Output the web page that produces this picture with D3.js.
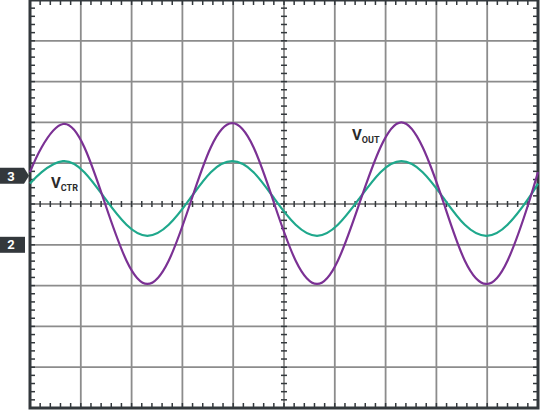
<!DOCTYPE html>
<html>
<head>
<meta charset="utf-8">
<script src="https://cdn.jsdelivr.net/npm/d3@7"></script>
<style>
  html, body { margin: 0; padding: 0; background: #fff; }
  svg { display: block; }
  text { font-family: Roboto, "Liberation Sans", sans-serif; }
</style>
</head>
<body>
<svg id="canvas" width="540" height="410"></svg>
<script>
// time axis in divisions, read at roughly eighth-period steps
let timeDiv = [0, 0.23, 0.65, 1.07, 1.48, 1.90, 2.31, 2.73, 3.15, 3.56, 3.98, 4.40, 4.81,
               5.23, 5.65, 6.06, 6.48, 6.90, 7.31, 7.73, 8.15, 8.56, 8.98, 9.40, 9.81, 10]

// V_OUT (purple), in vertical divisions from centre
let vOut = [0.78, 1.39, 1.96, 1.39, 0, -1.39, -1.96, -1.39, 0, 1.39, 1.98, 1.39, 0,
            -1.39, -1.96, -1.39, 0, 1.39, 2.0, 1.39, 0, -1.39, -1.96, -1.39, 0, 0.78]

// V_CTR (teal)
let vCtr = [0.5, 0.78, 1.05, 0.78, 0.13, -0.51, -0.78, -0.51, 0.13, 0.78, 1.05, 0.78, 0.13,
            -0.51, -0.78, -0.51, 0.13, 0.78, 1.05, 0.78, 0.13, -0.51, -0.78, -0.51, 0.13, 0.5]

// channel markers on the left edge
let markerLabels = ["3", "2"]
let markerLevels = [0.69, -1.0]

let seriesNames = ["OUT", "CTR"]

let canvas = d3.select("#canvas")

let xScale = d3.scaleLinear().domain([0, 10]).range([30, 538])
let yScale = d3.scaleLinear().domain([-5, 5]).range([408, 0])

let gridColor = "#8c8c8c"
let darkColor = "#33383c"

let majorX = d3.range(1, 10)
let majorY = d3.range(-4, 5)
let minorX = d3.range(0, 50).map(i => i / 5)
let minorY = d3.range(-25, 25).map(i => i / 5)

// grid
canvas.append("g").selectAll("line")
    .data(majorX)
    .enter()
    .append("line")
    .attr("x1", d => xScale(d))
    .attr("x2", d => xScale(d))
    .attr("y1", yScale(5))
    .attr("y2", yScale(-5))
    .attr("stroke", gridColor)
    .attr("stroke-width", 1.8)

canvas.append("g").selectAll("line")
    .data(majorY)
    .enter()
    .append("line")
    .attr("x1", xScale(0))
    .attr("x2", xScale(10))
    .attr("y1", d => yScale(d))
    .attr("y2", d => yScale(d))
    .attr("stroke", gridColor)
    .attr("stroke-width", 1.8)

// minor ticks: border ones point inward, centre ones cross the axis
let ticks = canvas.append("g").attr("stroke", darkColor).attr("stroke-width", 1.5)

ticks.selectAll(".tTop").data(minorX).enter().append("line")
    .attr("x1", d => xScale(d)).attr("x2", d => xScale(d))
    .attr("y1", yScale(5)).attr("y2", yScale(5) + 5)
ticks.selectAll(".tBot").data(minorX).enter().append("line")
    .attr("x1", d => xScale(d)).attr("x2", d => xScale(d))
    .attr("y1", yScale(-5)).attr("y2", yScale(-5) - 5)
ticks.selectAll(".tMidX").data(minorX).enter().append("line")
    .attr("x1", d => xScale(d)).attr("x2", d => xScale(d))
    .attr("y1", yScale(0) - 3).attr("y2", yScale(0) + 3)
ticks.selectAll(".tLeft").data(minorY).enter().append("line")
    .attr("y1", d => yScale(d)).attr("y2", d => yScale(d))
    .attr("x1", xScale(0)).attr("x2", xScale(0) + 5)
ticks.selectAll(".tRight").data(minorY).enter().append("line")
    .attr("y1", d => yScale(d)).attr("y2", d => yScale(d))
    .attr("x1", xScale(10)).attr("x2", xScale(10) - 5)
ticks.selectAll(".tMidY").data(minorY).enter().append("line")
    .attr("y1", d => yScale(d)).attr("y2", d => yScale(d))
    .attr("x1", xScale(5) - 3).attr("x2", xScale(5) + 3)

// border
canvas.append("rect")
    .attr("x", xScale(0))
    .attr("y", yScale(5))
    .attr("width", xScale(10) - xScale(0))
    .attr("height", yScale(-5) - yScale(5))
    .attr("fill", "none")
    .attr("stroke", darkColor)
    .attr("stroke-width", 3)

// traces
let line = d3.line()
    .x(d => xScale(d[0]))
    .y(d => yScale(d[1]))
    .curve(d3.curveNatural)

canvas.append("path")
    .datum(timeDiv.map((t, i) => [t, vCtr[i]]))
    .attr("d", line)
    .attr("fill", "none")
    .attr("stroke", "#1fa88c")
    .attr("stroke-width", 2.2)

canvas.append("path")
    .datum(timeDiv.map((t, i) => [t, vOut[i]]))
    .attr("d", line)
    .attr("fill", "none")
    .attr("stroke", "#7b3194")
    .attr("stroke-width", 2.2)

// trace labels
let addLabel = (x, y, sub) => {
    let t = canvas.append("text")
        .attr("x", x)
        .attr("y", y)
        .attr("fill", "#2b2b2b")
        .attr("font-weight", 700)
    t.append("tspan").attr("font-size", 15).text("V")
    t.append("tspan").attr("font-size", 9).attr("dy", 3).text(sub)
}
addLabel(51, 188, seriesNames[1])
addLabel(352, 140, seriesNames[0])

// channel markers
let markers = canvas.append("g").selectAll("g")
    .data(markerLabels)
    .enter()
    .append("g")
    .attr("transform", (d, i) => "translate(0," + yScale(markerLevels[i]) + ")")

markers.append("path")
    .attr("d", (d, i) => i === 0
        ? "M0,-8 L24,-8 L29,0 L24,8 L0,8 Z"
        : "M0,-8 L25,-8 L25,8 L0,8 Z")
    .attr("fill", darkColor)

markers.append("text")
    .attr("x", 11)
    .attr("y", 0)
    .attr("dy", "0.36em")
    .attr("text-anchor", "middle")
    .attr("fill", "#fff")
    .attr("font-size", 13)
    .attr("font-weight", 700)
    .text(d => d)
</script>
</body>
</html>
